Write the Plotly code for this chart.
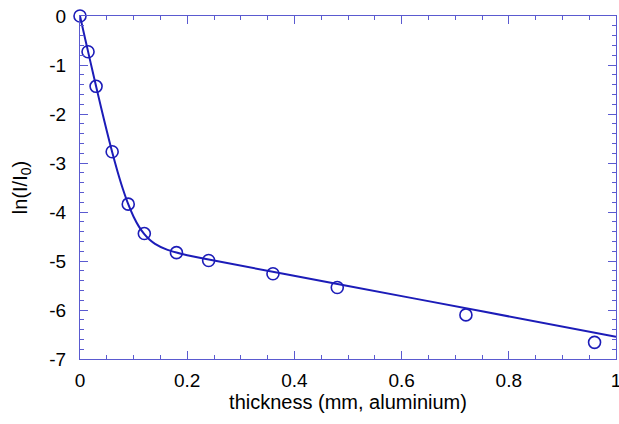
import plotly.graph_objects as go

# Measured attenuation: thickness (mm of aluminium) and ln(I/I0)
thickness = [0.0, 0.015, 0.03, 0.06, 0.09, 0.12, 0.18, 0.24, 0.36, 0.48, 0.72, 0.96]
ln_ratio = [0.0, -0.73, -1.435, -2.77, -3.84, -4.44, -4.83, -4.99, -5.26, -5.54, -6.10, -6.66]

# Fitted two-component attenuation curve
fit_x = [0.0, 0.01, 0.02, 0.03, 0.04, 0.05, 0.06, 0.07, 0.08, 0.09, 0.10, 0.11,
         0.12, 0.13, 0.14, 0.16, 0.18, 0.20, 0.25, 0.5, 0.75, 1.0]
fit_y = [0.0, -0.483, -0.962, -1.435, -1.898, -2.348, -2.775, -3.173, -3.531, -3.841,
         -4.096, -4.298, -4.452, -4.566, -4.649, -4.758, -4.828, -4.881, -4.991,
         -5.509, -6.027, -6.544]

x_ticks = [0, 0.2, 0.4, 0.6, 0.8, 1]
x_tick_text = ["0", "0.2", "0.4", "0.6", "0.8", "1"]
y_ticks = [0, -1, -2, -3, -4, -5, -6, -7]
y_tick_text = ["0", "-1", "-2", "-3", "-4", "-5", "-6", "-7"]

mark_col = "#1c1cb8"
axis_col = "#5a5ad0"
font_family = "Liberation Sans, Arial, sans-serif"

fig = go.Figure()
fig.add_trace(go.Scatter(x=fit_x, y=fit_y, mode="lines",
                         line=dict(color=mark_col, width=2, shape="spline", smoothing=0.6),
                         cliponaxis=False, hoverinfo="skip"))
fig.add_trace(go.Scatter(x=thickness, y=ln_ratio, mode="markers", cliponaxis=False,
                         marker=dict(symbol="circle-open", size=12, color=mark_col,
                                     line=dict(width=1.6, color=mark_col))))

axis_common = dict(showgrid=False, zeroline=False, showline=True, linecolor=axis_col, linewidth=1.3,
                   mirror="ticks", ticks="inside", ticklen=8, tickwidth=1.3, tickcolor=axis_col,
                   automargin=False,
                   tickfont=dict(family=font_family, size=19, color="black"),
                   title_font=dict(family=font_family, size=20, color="black"))

fig.update_xaxes(range=[0, 1], tickvals=x_ticks, ticktext=x_tick_text, ticklabeloverflow="allow",
                 ticklabelstandoff=4,
                 minor=dict(dtick=0.05, ticks="inside", ticklen=4, tickwidth=1.3, tickcolor=axis_col),
                 title_text="thickness (mm, aluminium)", title_standoff=2, **axis_common)
fig.update_yaxes(range=[-7, 0], tickvals=y_ticks, ticktext=y_tick_text, ticklabelstandoff=9,
                 minor=dict(dtick=0.2, ticks="inside", ticklen=4, tickwidth=1.3, tickcolor=axis_col),
                 title_text="ln(I/I<sub>0</sub>)", title_standoff=16, **axis_common)

fig.update_layout(width=619, height=424, margin=dict(l=80, r=3, t=16, b=65),
                  plot_bgcolor="white", paper_bgcolor="white", showlegend=False)

fig.write_html("out.html")
